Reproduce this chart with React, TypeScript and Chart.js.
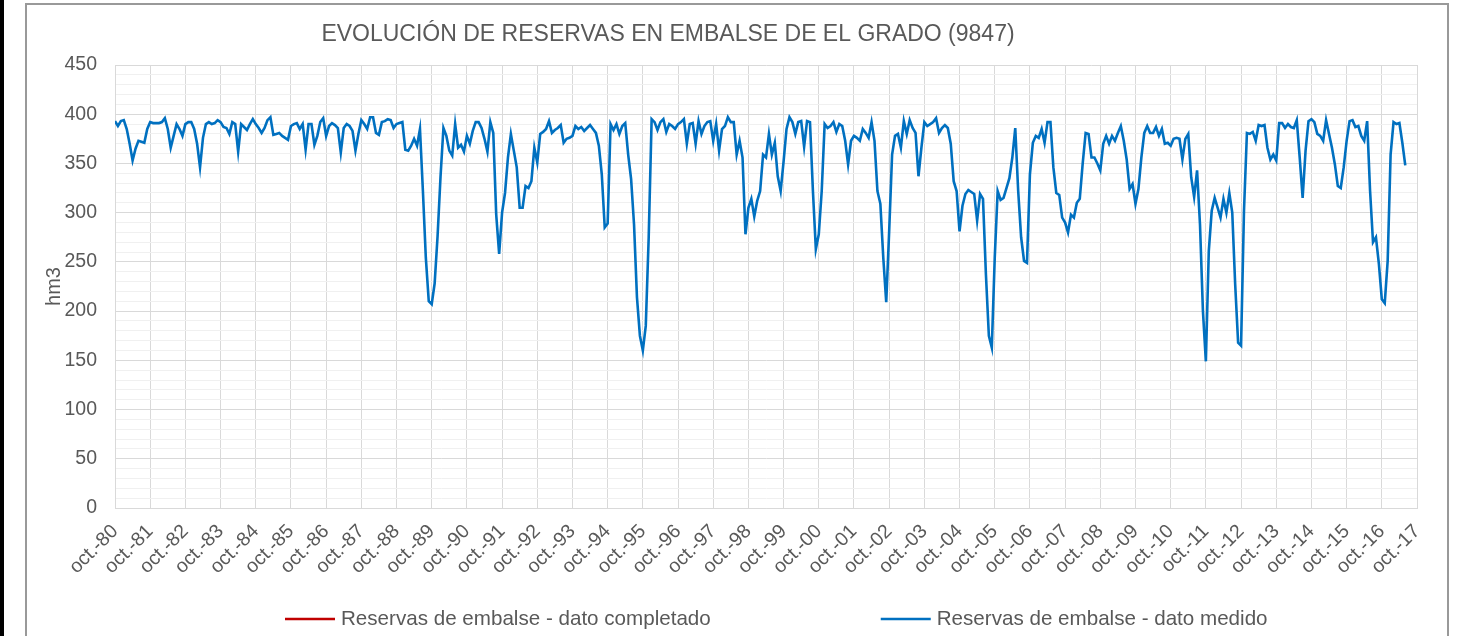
import React, { useEffect, useRef } from 'react';
import { Chart, registerables } from 'chart.js';

Chart.register(...registerables);

const FONT = '"Liberation Sans", Arial, Helvetica, sans-serif';
const TEXT_COLOR = '#595959';

const chartTitle = 'EVOLUCIÓN DE RESERVAS EN EMBALSE DE EL GRADO (9847)';
const yAxisTitle = 'hm3';
const seriesCompletadoLabel = 'Reservas de embalse - dato completado';
const seriesMedidoLabel = 'Reservas de embalse - dato medido';

// One tick per October (every 12 months)
const xTickLabels = [
  'oct.-80', 'oct.-81', 'oct.-82', 'oct.-83', 'oct.-84', 'oct.-85', 'oct.-86', 'oct.-87',
  'oct.-88', 'oct.-89', 'oct.-90', 'oct.-91', 'oct.-92', 'oct.-93', 'oct.-94', 'oct.-95',
  'oct.-96', 'oct.-97', 'oct.-98', 'oct.-99', 'oct.-00', 'oct.-01', 'oct.-02', 'oct.-03',
  'oct.-04', 'oct.-05', 'oct.-06', 'oct.-07', 'oct.-08', 'oct.-09', 'oct.-10', 'oct.-11',
  'oct.-12', 'oct.-13', 'oct.-14', 'oct.-15', 'oct.-16', 'oct.-17',
];

// Monthly measured reserves (hm3), one row per hydrological year (oct - sep), from oct-80 to jun-17
const reservasMedido: number[] = [
  393, 388, 393, 394, 385, 370, 353, 365, 373, 372, 371, 385,
  392, 391, 391, 391, 392, 396, 385, 366, 378, 390, 385, 378,
  390, 392, 392, 385, 370, 346, 376, 390, 392, 390, 391, 394,
  392, 387, 386, 380, 392, 390, 362, 390, 387, 384, 390, 395,
  390, 386, 381, 386, 394, 397, 379, 380, 381, 378, 376, 374,
  388, 390, 391, 385, 390, 364, 390, 390, 369, 378, 392, 396,
  378, 388, 391, 389, 386, 361, 386, 390, 388, 383, 363, 380,
  394, 390, 385, 397, 397, 381, 379, 392, 393, 395, 394, 386,
  390, 391, 392, 364, 363, 368, 375, 368, 385, 322, 254, 210,
  207, 228, 276, 336, 386, 378, 363, 358, 390, 366, 369, 362,
  378, 370, 383, 392, 392, 386, 375, 362, 392, 381, 298, 258,
  300, 320, 356, 380, 363, 346, 305, 305, 327, 325, 332, 366,
  351, 380, 382, 385, 393, 381, 384, 386, 389, 371, 375, 376,
  378, 388, 385, 387, 383, 386, 389, 385, 381, 368, 339, 285,
  289, 390, 384, 390, 380, 388, 391, 359, 334, 288, 214, 175,
  160, 185, 275, 395, 392, 384, 392, 395, 382, 390, 388, 385,
  390, 392, 395, 370, 390, 391, 370, 393, 380, 388, 392, 393,
  373, 390, 363, 385, 388, 397, 392, 392, 359, 373, 356, 278,
  305, 314, 296, 312, 322, 359, 356, 380, 359, 371, 337, 322,
  352, 385, 397, 392, 380, 392, 393, 367, 393, 392, 322, 263,
  278, 322, 390, 386, 388, 392, 382, 390, 388, 373, 349, 373,
  378, 376, 373, 385, 381, 376, 392, 373, 322, 309, 254, 209,
  281, 359, 378, 380, 366, 393, 380, 394, 386, 381, 337, 366,
  392, 388, 390, 392, 396, 381, 386, 389, 386, 370, 332, 322,
  281, 307, 319, 323, 321, 319, 292, 319, 314, 237, 175, 163,
  254, 322, 313, 315, 325, 335, 356, 386, 322, 275, 251, 249,
  339, 371, 378, 376, 385, 371, 392, 392, 346, 320, 318, 295,
  290, 280, 298, 295, 310, 314, 350, 381, 380, 356, 356, 350,
  343, 370, 378, 370, 378, 373, 381, 388, 373, 354, 324, 329,
  309, 324, 356, 381, 388, 381, 381, 387, 378, 385, 370, 371,
  368, 375, 376, 375, 354, 375, 380, 336, 316, 343, 288, 200,
  149, 261, 302, 315, 305, 295, 314, 300, 320, 300, 227, 168,
  165, 302, 381, 380, 382, 373, 389, 388, 389, 366, 354, 359,
  353, 391, 391, 386, 390, 387, 386, 394, 356, 315, 363, 393,
  395, 392, 380, 378, 373, 394, 380, 366, 349, 327, 325, 346,
  373, 393, 394, 387, 388, 378, 373, 393, 322, 270, 275, 248,
  212, 208, 251, 359, 392, 390, 391, 371, 348,
];

// Completed (filled-in) data: none visible in the chart
const reservasCompletado: (number | null)[] = [];

const MONTHS_PER_TICK = 12;

const titlePlugin = {
  id: 'manualTitle',
  afterDraw(chart: any) {
    const { ctx } = chart;
    ctx.save();
    ctx.font = `23px ${FONT}`;
    ctx.fillStyle = TEXT_COLOR;
    ctx.textAlign = 'center';
    ctx.textBaseline = 'middle';
    ctx.fillText(chartTitle, 668, 35);
    ctx.restore();
  },
};

const legendPlugin = {
  id: 'manualLegend',
  afterDraw(chart: any) {
    const { ctx } = chart;
    ctx.save();
    ctx.font = `20.6px ${FONT}`;
    ctx.textBaseline = 'middle';
    ctx.textAlign = 'left';
    let x = 285;
    const y = 619;
    chart.data.datasets.forEach((d: any) => {
      ctx.strokeStyle = d.borderColor;
      ctx.lineWidth = 2.5;
      ctx.beginPath();
      ctx.moveTo(x, y);
      ctx.lineTo(x + 50, y);
      ctx.stroke();
      ctx.fillStyle = TEXT_COLOR;
      ctx.fillText(d.label, x + 56, y);
      x += 56 + ctx.measureText(d.label).width + 170;
    });
    ctx.restore();
  },
};

export default function App() {
  const canvasRef = useRef<HTMLCanvasElement | null>(null);

  useEffect(() => {
    if (!canvasRef.current) return;
    const lastIndex = (xTickLabels.length - 1) * MONTHS_PER_TICK;
    const chart = new Chart(canvasRef.current, {
      type: 'line',
      data: {
        datasets: [
          {
            label: seriesCompletadoLabel,
            data: reservasCompletado.map((v, i) => ({ x: i, y: v })),
            borderColor: '#C00000',
            backgroundColor: '#C00000',
            borderWidth: 2.5,
            pointRadius: 0,
            spanGaps: false,
          },
          {
            label: seriesMedidoLabel,
            data: reservasMedido.map((v, i) => ({ x: i, y: v })),
            borderColor: '#0070C0',
            backgroundColor: '#0070C0',
            borderWidth: 2.6,
            pointRadius: 0,
            tension: 0,
          },
        ],
      },
      options: {
        animation: false,
        responsive: false,
        maintainAspectRatio: false,
        layout: { padding: { left: 42, right: 43, top: 65, bottom: 60 } },
        plugins: {
          legend: { display: false },
          title: { display: false },
          tooltip: { enabled: false },
        },
        scales: {
          x: {
            type: 'linear',
            min: 0,
            max: lastIndex,
            ticks: {
              stepSize: MONTHS_PER_TICK,
              autoSkip: false,
              minRotation: 45,
              maxRotation: 45,
              padding: 12,
              color: TEXT_COLOR,
              font: { family: FONT, size: 19.5 },
              callback: (v: any) => xTickLabels[Math.round(Number(v) / MONTHS_PER_TICK)] ?? '',
            },
            grid: { color: '#d9d9d9', lineWidth: 1, drawTicks: false },
            border: { color: '#d9d9d9' },
            afterFit: (s: any) => {
              s.height = 68;
            },
          },
          y: {
            min: 0,
            max: 450,
            ticks: {
              stepSize: 10,
              autoSkip: false,
              padding: 18,
              color: TEXT_COLOR,
              font: { family: FONT, size: 19.5 },
              callback: (v: any) => (Number(v) % 50 === 0 ? String(v) : ''),
            },
            grid: {
              drawTicks: false,
              lineWidth: 1,
              color: (c: any) => (c.tick && c.tick.value % 50 === 0 ? '#d9d9d9' : '#f0f0f0'),
            },
            border: { color: '#d9d9d9' },
            title: {
              display: true,
              text: yAxisTitle,
              color: TEXT_COLOR,
              font: { family: FONT, size: 20 },
              padding: { top: 0, bottom: 0 },
            },
            afterFit: (s: any) => {
              s.width = 73;
            },
          },
        },
      },
      plugins: [titlePlugin, legendPlugin],
    } as any);
    return () => chart.destroy();
  }, []);

  return (
    <div
      style={{
        position: 'absolute',
        left: 0,
        top: 0,
        width: 1460,
        height: 636,
        background: '#ffffff',
        overflow: 'hidden',
      }}
    >
      <div style={{ position: 'absolute', left: 0, top: 0, width: 4, height: 636, background: '#000' }} />
      <div
        style={{
          position: 'absolute',
          left: 25,
          top: 3,
          width: 1420,
          height: 680,
          border: '2px solid #999999',
        }}
      />
      <canvas
        ref={canvasRef}
        width={1460}
        height={636}
        style={{ position: 'absolute', left: 0, top: 0, width: 1460, height: 636, display: 'block' }}
      />
    </div>
  );
}
